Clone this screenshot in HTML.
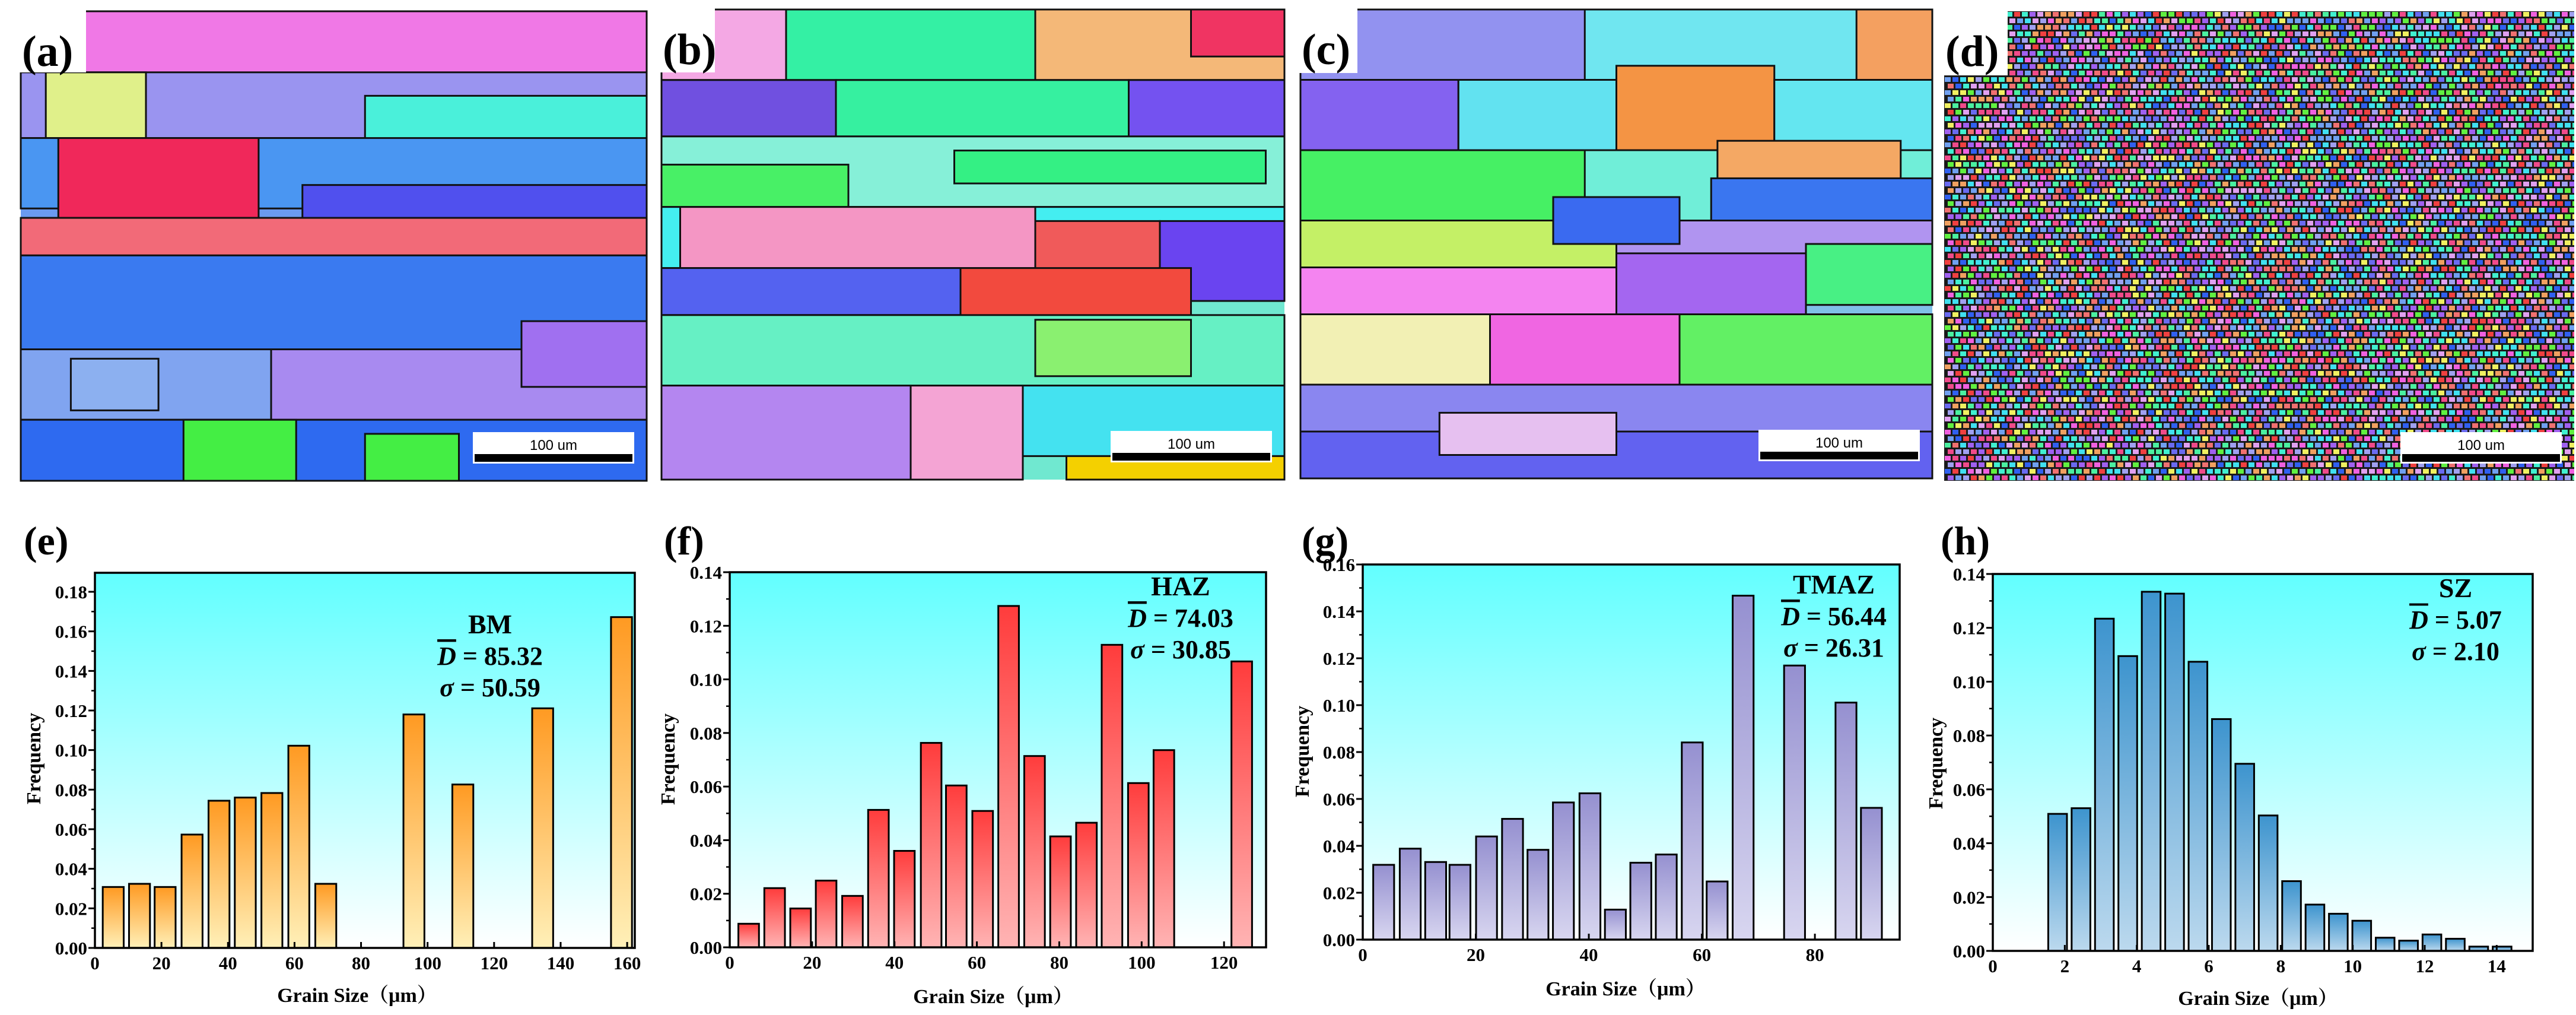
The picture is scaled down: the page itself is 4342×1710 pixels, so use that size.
<!DOCTYPE html>
<html><head><meta charset="utf-8">
<style>
html,body{margin:0;padding:0;background:#fff;}
svg{display:block;}
text{font-family:"Liberation Serif",serif;font-weight:bold;}
</style></head>
<body>
<svg id="fig" width="4342" height="1710" viewBox="0 0 4342 1710" xmlns="http://www.w3.org/2000/svg">
<defs>
<linearGradient id="bg" x1="0" y1="0" x2="0" y2="1"><stop offset="0" stop-color="#62ffff"/><stop offset="1" stop-color="#ffffff"/></linearGradient>
<linearGradient id="ge" x1="0" y1="0" x2="0" y2="1"><stop offset="0" stop-color="#ff9a22"/><stop offset="1" stop-color="#fff0b8"/></linearGradient>
<linearGradient id="gf" x1="0" y1="0" x2="0" y2="1"><stop offset="0" stop-color="#ff3c3c"/><stop offset="1" stop-color="#ffb4b4"/></linearGradient>
<linearGradient id="gg" x1="0" y1="0" x2="0" y2="1"><stop offset="0" stop-color="#9590d0"/><stop offset="1" stop-color="#d8d6f0"/></linearGradient>
<linearGradient id="gh" x1="0" y1="0" x2="0" y2="1"><stop offset="0" stop-color="#3d94ce"/><stop offset="1" stop-color="#bcd9ee"/></linearGradient>
</defs>
<g id="maps"></g>
<g id="charts"></g>
</svg>
<script>
// ---------- chart data ----------
const eCenters = [5.5,13.4,21.1,29.2,37.3,45.2,53.2,61.3,69.4,95.9,110.6,134.6,158.3];
const eValues  = [0.0308,0.0324,0.0308,0.0573,0.0744,0.076,0.0783,0.1022,0.0324,0.118,0.0826,0.1211,0.1672];
const eXTicks  = [0,20,40,60,80,100,120,140,160];
const eYTicks  = [0,0.02,0.04,0.06,0.08,0.10,0.12,0.14,0.16,0.18];

const fCenters = [4.6,10.9,17.2,23.4,29.8,36.1,42.4,48.9,55,61.4,67.7,74,80.3,86.6,92.8,99.2,105.4,124.3];
const fValues  = [0.0088,0.0221,0.0145,0.0249,0.0192,0.0513,0.036,0.0763,0.0604,0.0509,0.1274,0.0714,0.0414,0.0465,0.1129,0.0613,0.0736,0.1067];
const fXTicks  = [0,20,40,60,80,100,120];
const fYTicks  = [0,0.02,0.04,0.06,0.08,0.10,0.12,0.14];

const gCenters = [3.7,8.4,12.9,17.2,21.9,26.5,31,35.5,40.2,44.7,49.2,53.7,58.3,62.7,67.3,76.4,85.5,90];
const gValues  = [0.0319,0.0388,0.0331,0.0319,0.044,0.0515,0.0383,0.0585,0.0624,0.0128,0.0328,0.0363,0.0841,0.0248,0.1467,0.1169,0.1011,0.0562];
const gXTicks  = [0,20,40,60,80];
const gYTicks  = [0,0.02,0.04,0.06,0.08,0.10,0.12,0.14,0.16];

const hCenters = [1.8,2.45,3.1,3.75,4.4,5.05,5.7,6.35,7.0,7.65,8.3,8.95,9.6,10.25,10.9,11.55,12.2,12.85,13.5,14.15];
const hValues  = [0.0509,0.053,0.1234,0.1095,0.1334,0.1327,0.1074,0.0861,0.0695,0.0503,0.0259,0.0172,0.0138,0.0112,0.0049,0.0038,0.0061,0.0045,0.0016,0.0016];
const hXTicks  = [0,2,4,6,8,10,12,14];
const hYTicks  = [0,0.02,0.04,0.06,0.08,0.10,0.12,0.14];

const NS = "http://www.w3.org/2000/svg";
function mk(tag, attrs, parent){const el=document.createElementNS(NS,tag);for(const k in attrs)el.setAttribute(k,attrs[k]);parent.appendChild(el);return el;}

function drawChart(cfg, centers, values, xTicks, yTicks){
  const charts=document.getElementById('charts');
  const g=mk('g',{},charts);
  
  
  const sx=v=>cfg.L+(v/cfg.xmax)*(cfg.R-cfg.L);
  const sy=v=>cfg.B-(v/cfg.ymax)*(cfg.B-cfg.T);
  const bgR=mk('rect',{x:cfg.L,y:cfg.T,width:cfg.R-cfg.L,height:cfg.B-cfg.T,fill:'url(#bg)'},g);
  
  
  centers.forEach((c,i)=>{
    const x0=sx(c-cfg.bw/2), x1=sx(c+cfg.bw/2), y0=sy(values[i]);
    const b=mk('rect',{x:x0,y:y0,width:x1-x0,height:cfg.B-y0,fill:'url(#'+cfg.grad+')',stroke:'#000','stroke-width':3},g);
    
    
  });
  const frame=mk('rect',{x:cfg.L,y:cfg.T,width:cfg.R-cfg.L,height:cfg.B-cfg.T,fill:'none',stroke:'#000','stroke-width':3.5},g);
  
  
  yTicks.forEach((v,i)=>{
    const y=sy(v);
    mk('line',{x1:cfg.L-11,x2:cfg.L,y1:y,y2:y,stroke:'#000','stroke-width':3},g);
    if(i<yTicks.length-1){const ym=sy((v+yTicks[i+1])/2);mk('line',{x1:cfg.L-6,x2:cfg.L,y1:ym,y2:ym,stroke:'#000','stroke-width':2.5},g);}
    else{const ym=sy(v+(v-yTicks[i-1])/2); if(ym>cfg.T+2) mk('line',{x1:cfg.L-6,x2:cfg.L,y1:ym,y2:ym,stroke:'#000','stroke-width':2.5},g);}
    const t=mk('text',{x:cfg.L-13,y:y+11,'text-anchor':'end','font-size':31},g);
    t.textContent=v.toFixed(2);
    
    
  });
  xTicks.forEach(v=>{
    const x=sx(v);
    mk('line',{x1:x,x2:x,y1:cfg.B,y2:cfg.B-10,stroke:'#000','stroke-width':3},g);
    const t=mk('text',{x:x,y:cfg.B+36,'text-anchor':'middle','font-size':31},g);
    t.textContent=String(v);
    
    
  });
  const yt=mk('text',{x:0,y:0,'text-anchor':'middle','font-size':34,transform:'translate('+(cfg.yt[0]+12)+','+cfg.yt[1]+') rotate(-90)'},g);
  yt.textContent='Frequency';
  
  
  const xt=mk('text',{x:cfg.xt[0],y:cfg.xt[1],'text-anchor':'middle','font-size':34},g);
  xt.textContent='Grain Size（μm）';
  xt.setAttribute('style','font-family:"Liberation Serif","Noto Serif CJK SC",serif;');
  
  
  const a=cfg.ann;
  const t1=mk('text',{x:a.x,y:a.y,'text-anchor':'middle','font-size':46},g);t1.textContent=a.zone;
  
  
  const t2=mk('text',{x:a.x,y:a.y+53,'text-anchor':'middle','font-size':44},g);
  t2.innerHTML='<tspan font-style="italic" text-decoration="overline">D</tspan> = '+a.d;
  
  
  const t3=mk('text',{x:a.x,y:a.y+106,'text-anchor':'middle','font-size':44},g);
  t3.innerHTML='<tspan font-style="italic">σ</tspan> = '+a.s;
  
  
  const pl=mk('text',{x:cfg.pl[0],y:cfg.pl[1],'font-size':68},g);
  pl.textContent=cfg.plabel;
  
  
}

drawChart({name:'histogram-bm',L:160,R:1070,T:965,B:1597,xmax:162.3,ymax:0.1896,bw:6.3,grad:'ge',yt:[56,1278],xt:[602,1688],
  ann:{x:826,y:1067,zone:'BM',d:'85.32',s:'50.59'},pl:[40,934],plabel:'(e)'},eCenters,eValues,eXTicks,eYTicks);
drawChart({name:'histogram-haz',L:1230,R:2134,T:964,B:1596,xmax:130.2,ymax:0.14,bw:5.0,grad:'gf',yt:[1125,1279],xt:[1674,1690],
  ann:{x:1990,y:1003,zone:'HAZ',d:'74.03',s:'30.85'},pl:[1119,934],plabel:'(f)'},fCenters,fValues,fXTicks,fYTicks);
drawChart({name:'histogram-tmaz',L:2297,R:3202,T:951,B:1583,xmax:95,ymax:0.16,bw:3.7,grad:'gg',yt:[2194,1266],xt:[2740,1677],
  ann:{x:3091,y:1000,zone:'TMAZ',d:'56.44',s:'26.31'},pl:[2194,934],plabel:'(g)'},gCenters,gValues,gXTicks,gYTicks);
drawChart({name:'histogram-sz',L:3359,R:4269,T:967,B:1602,xmax:15,ymax:0.14,bw:0.52,grad:'gh',yt:[3262,1286],xt:[3806,1693],
  ann:{x:4139,y:1006,zone:'SZ',d:'5.07',s:'2.10'},pl:[3271,934],plabel:'(h)'},hCenters,hValues,hXTicks,hYTicks);

// ---------- EBSD maps ----------
const maps=document.getElementById('maps');
function drawMap(name,X,Y,W,H,rects,base){
  const g=mk('g',{},maps);
  
  
  mk('rect',{x:X,y:Y,width:W,height:H,fill:base},g);
  rects.forEach(r=>{
    mk('rect',{x:X+r[0]*W,y:Y+r[1]*H,width:(r[2]-r[0])*W,height:(r[3]-r[1])*H,fill:r[4],stroke:'#111','stroke-width':3},g);
  });
  return g;
}
function finishMap(g,X,Y,W,H,lbl,lb){
  mk('rect',{x:X-2,y:Y-4,width:lb[0],height:lb[1],fill:'#fff'},g);
  const t=mk('text',{x:X+2,y:Y+92,'font-size':74},g);t.textContent=lbl;
  
  
  const bx=X+W-293, by=Y+H-82;
  const sb=mk('g',{},g);
  
  
  mk('rect',{x:bx,y:by,width:272,height:53,fill:'#fff'},sb);
  mk('rect',{x:bx+3,y:by+37,width:266,height:13,fill:'#000'},sb);
  const st=mk('text',{x:bx+136,y:by+30,'text-anchor':'middle','font-size':24,style:'font-family:"Liberation Sans",sans-serif;font-weight:normal'},sb);
  st.textContent='100 um';
}
const A=[[0,0,1,0.15,'#f078e6'],[0,0.13,1,0.27,'#9a94f0'],[0.04,0.13,0.2,0.27,'#e0f08a'],[0.55,0.18,1,0.28,'#4af0da'],
 [0,0.27,1,0.42,'#4a96f2'],[0.06,0.27,0.38,0.44,'#f0285a'],[0.45,0.37,1,0.45,'#5050ee'],[0,0.44,1,0.52,'#f26a78'],
 [0,0.52,1,0.72,'#3a7af0'],[0,0.72,0.4,0.87,'#80a4f0'],[0.4,0.72,1,0.87,'#a88af0'],[0.08,0.74,0.22,0.85,'#8cb0f0'],
 [0,0.87,1,1,'#2e6af0'],[0.26,0.87,0.44,1,'#44ee44'],[0.55,0.9,0.7,1,'#44ee44'],[0.8,0.66,1,0.8,'#a070f0']];
const B=[[0,0,1,0.15,'#34f0a4'],[0,0,0.2,0.15,'#f4a8e4'],[0.6,0,1,0.15,'#f4b878'],[0.85,0,1,0.1,'#f03462'],
 [0,0.15,0.28,0.27,'#7050e0'],[0.28,0.15,0.75,0.27,'#36f0a0'],[0.75,0.15,1,0.27,'#7452f0'],
 [0,0.27,1,0.42,'#86f0d8'],[0,0.33,0.3,0.42,'#48f066'],[0.47,0.3,0.97,0.37,'#34f084'],
 [0,0.42,1,0.55,'#44eef0'],[0.03,0.42,0.6,0.55,'#f496c4'],[0.6,0.45,0.8,0.6,'#f05a5a'],[0.8,0.45,1,0.62,'#6a44f0'],
 [0,0.55,0.48,0.65,'#5462f0'],[0.48,0.55,0.85,0.66,'#f24a3e'],[0,0.65,1,0.8,'#66f0c4'],[0.6,0.66,0.85,0.78,'#8af070'],
 [0,0.8,0.4,1,'#b486f0'],[0.4,0.8,0.58,1,'#f4a4d4'],[0.58,0.8,1,0.95,'#44e2f0'],[0.65,0.95,1,1,'#f4d000']];
const C=[[0,0,1,0.15,'#70e6f0'],[0,0,0.45,0.15,'#9292f0'],[0.88,0,1,0.2,'#f4a060'],
 [0,0.15,0.25,0.3,'#8462f0'],[0.25,0.15,0.5,0.3,'#62e2f0'],[0.5,0.12,0.75,0.3,'#f49444'],[0.75,0.15,1,0.3,'#64e6f0'],
 [0,0.3,1,0.45,'#70eed8'],[0,0.3,0.45,0.45,'#46f064'],[0.66,0.28,0.95,0.37,'#f4a864'],[0.65,0.36,1,0.47,'#3a76f0'],
 [0,0.45,0.5,0.56,'#c4f066'],[0.5,0.45,1,0.56,'#b094f0'],[0.4,0.4,0.6,0.5,'#3a6af0'],
 [0,0.55,0.5,0.65,'#f484f0'],[0.5,0.52,0.8,0.65,'#a466f0'],[0.8,0.5,1,0.63,'#48f084'],
 [0,0.65,0.3,0.8,'#f2f0b4'],[0.3,0.65,0.6,0.8,'#f066e2'],[0.6,0.65,1,0.8,'#62f064'],
 [0,0.8,1,0.9,'#8a86f0'],[0,0.9,1,1,'#6262f0'],[0.22,0.86,0.5,0.95,'#e6c0f0']];
let g1=drawMap('ebsd-map-bm',35,19,1055,791,A,'#6a9af0');finishMap(g1,35,19,1055,791,'(a)',[112,107]);
let g2=drawMap('ebsd-map-haz',1115,16,1050,792,B,'#70e8d0');finishMap(g2,1115,16,1050,792,'(b)',[92,110]);
let g3=drawMap('ebsd-map-tmaz',2192,16,1065,790,C,'#80c0e8');finishMap(g3,2192,16,1065,790,'(c)',[98,111]);
(function(){
  const X=3277,Y=19,W=1062,H=791;
  const g=mk('g',{},maps);
  
  
  mk('rect',{x:X,y:Y,width:W,height:H,fill:'#1a1a1a'},g);
  const pal=['#f04a8a','#4af0a0','#6a6af0','#f0a060','#40e0f0','#a060f0','#60f040','#f060e0','#f0f060','#f07070','#70a0f0','#40f0d0','#e0a0f0','#f04040','#3060f0','#a0a0f0'];
  let s=12345;const rnd=()=>{s=(s*1103515245+12345)&0x7fffffff;return s/0x7fffffff;};
  const cw=13,ch=11;
  for(let r=0;r*ch<H;r++){for(let c=0;c*cw<W;c++){
    const ox=(r%2)*5;
    const w=Math.min(cw-3,X+W-(X+c*cw+1+ox)), h=Math.min(ch-3,H-r*ch-2); if(w<=0||h<=0) continue;
    mk('rect',{x:X+c*cw+1+ox,y:Y+r*ch+1,width:w,height:h,fill:pal[Math.floor(rnd()*pal.length)]},g);
  }}
  finishMap(g,X,Y,W,H,'(d)',[109,112]);
})();
</script>
</body></html>
